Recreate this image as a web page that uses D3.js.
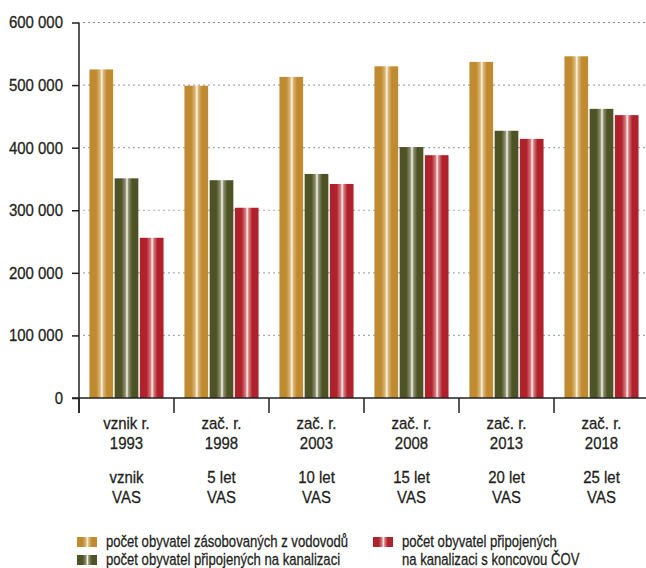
<!DOCTYPE html>
<html>
<head>
<meta charset="utf-8">
<script src="https://cdn.jsdelivr.net/npm/d3@7"></script>
<style>
  body { margin: 0; background: #fff; }
  svg text { font-family: "Liberation Sans", Arial, sans-serif; fill: #231f20; stroke: #231f20; stroke-width: 0.3px; }
</style>
</head>
<body>
<div id="chart"></div>
<script>
// data
var categories = ['1993', '1998', '2003', '2008', '2013', '2018'];
var labelTop = ['vznik r.', 'zač. r.', 'zač. r.', 'zač. r.', 'zač. r.', 'zač. r.'];
var labelBottom = ['vznik', '5 let', '10 let', '15 let', '20 let', '25 let'];
var seriesNames = [
    'počet obyvatel zásobovaných z vodovodů',
    'počet obyvatel připojených na kanalizaci',
    'počet obyvatel připojených na kanalizaci s koncovou ČOV'
];
var water = [525000, 499000, 513000, 530000, 537000, 546000];
var sewer = [351000, 348000, 358000, 401000, 427000, 462000];
var treatment = [256000, 304000, 342000, 388000, 414000, 452000];
var yTicks = [0, 100000, 200000, 300000, 400000, 500000, 600000];

var width = 646, height = 568;
var margin = { top: 22.5, right: 0, bottom: 170, left: 79 };
// the original font is a condensed one, so text gets squeezed sideways
var squeezeY = 0.88, squeezeX = 0.88, squeezeLegend = 0.77;

var svg = d3.select('#chart').append('svg')
    .attr('width', width)
    .attr('height', height);

var colors = [
    { id: 'gGold', base: '#bf8a30', light: '#dcb676' },
    { id: 'gGreen', base: '#4e5326', light: '#8f9170' },
    { id: 'gRed', base: '#b0222b', light: '#d8797f' }
];
var defs = svg.append('defs');
colors.forEach(function (c) {
    var g = defs.append('linearGradient').attr('id', c.id)
        .attr('x1', '0%').attr('x2', '100%').attr('y1', '0%').attr('y2', '0%');
    g.append('stop').attr('offset', '0%').attr('stop-color', c.base);
    g.append('stop').attr('offset', '28%').attr('stop-color', c.base);
    g.append('stop').attr('offset', '45%').attr('stop-color', c.light);
    g.append('stop').attr('offset', '52%').attr('stop-color', '#fbf8f2');
    g.append('stop').attr('offset', '59%').attr('stop-color', c.light);
    g.append('stop').attr('offset', '74%').attr('stop-color', c.base);
    g.append('stop').attr('offset', '100%').attr('stop-color', c.base);
});

var y = d3.scaleLinear().domain([0, 600000]).range([398, margin.top]);
var x0 = d3.scaleBand().domain(categories).range([margin.left, margin.left + 95 * 6]).paddingInner(0.22).paddingOuter(0.11);
var x1 = d3.scaleBand().domain([0, 1, 2]).range([0, x0.bandwidth()]).paddingInner(0.06);

var fmt = function (v) { return d3.format(',')(v).replace(/,/g, ' '); };

// grid
svg.append('g').selectAll('line').data(yTicks.slice(1)).join('line')
    .attr('x1', margin.left + 4).attr('x2', width)
    .attr('y1', function (d) { return y(d); }).attr('y2', function (d) { return y(d); })
    .attr('stroke', function (d) { return d === 600000 ? '#8a8a8a' : '#aaa'; })
    .attr('stroke-width', 1.2)
    .attr('stroke-dasharray', '2,3');

// bars
var series = [water, sewer, treatment];
var groups = svg.append('g').selectAll('g').data(categories).join('g')
    .attr('transform', function (d) { return 'translate(' + x0(d) + ',0)'; });
groups.selectAll('rect').data(function (d, i) { return series.map(function (s, k) { return { k: k, v: s[i] }; }); })
    .join('rect')
    .attr('x', function (d) { return x1(d.k); })
    .attr('width', x1.bandwidth())
    .attr('y', function (d) { return y(d.v); })
    .attr('height', function (d) { return y(0) - y(d.v); })
    .attr('fill', function (d) { return 'url(#' + colors[d.k].id + ')'; });

// y axis
var yAxis = svg.append('g').attr('transform', 'translate(' + margin.left + ',0)')
    .call(d3.axisLeft(y).tickValues(yTicks).tickFormat(fmt).tickSize(7).tickPadding(9));
yAxis.select('.domain').attr('stroke', '#231f20').attr('stroke-width', 1.5)
    .attr('d', 'M0,' + margin.top + 'V413');
yAxis.selectAll('.tick line').attr('stroke', '#231f20').attr('stroke-width', 1.5);
yAxis.selectAll('.tick text').style('font-size', '17px').attr('fill', '#231f20')
    .attr('x', 0).attr('transform', 'translate(-16,0) scale(' + squeezeY + ',1)');

// x axis
var step = x0.step();
svg.append('line').attr('x1', margin.left - 7).attr('x2', width)
    .attr('y1', y(0)).attr('y2', y(0)).attr('stroke', '#231f20').attr('stroke-width', 1.5);
svg.append('g').selectAll('line').data(categories).join('line')
    .attr('x1', function (d) { return x0(d) - step * x0.paddingInner() / 2; })
    .attr('x2', function (d) { return x0(d) - step * x0.paddingInner() / 2; })
    .attr('y1', y(0)).attr('y2', y(0) + 15)
    .attr('stroke', '#231f20').attr('stroke-width', 1.5);

var labels = svg.append('g').selectAll('text').data(categories).join('text')
    .attr('text-anchor', 'middle')
    .style('font-size', '17px')
    .attr('transform', function (d) { return 'translate(' + (x0(d) + x0.bandwidth() / 2) + ',0) scale(' + squeezeX + ',1)'; });
labels.each(function (d, i) {
    var t = d3.select(this);
    [labelTop[i], d, labelBottom[i], 'VAS'].forEach(function (s, j) {
        t.append('tspan').attr('x', 0).attr('y', 429 + j * 20 + (j > 1 ? 14 : 0)).text(s);
    });
});

// legend
var legend = [
    { k: 0, x: 77, y: 537, lines: [seriesNames[0]] },
    { k: 1, x: 77, y: 555, lines: [seriesNames[1]] },
    { k: 2, x: 373, y: 537, lines: ['počet obyvatel připojených', 'na kanalizaci s koncovou ČOV'] }
];
var lg = svg.append('g').selectAll('g').data(legend).join('g');
lg.append('rect')
    .attr('x', function (d) { return d.x; }).attr('y', function (d) { return d.y; })
    .attr('width', 20).attr('height', 10)
    .attr('fill', function (d) { return 'url(#' + colors[d.k].id + ')'; });
lg.append('text').style('font-size', '17px')
    .attr('transform', function (d) { return 'translate(' + (d.x + 29) + ',0) scale(' + squeezeLegend + ',1)'; })
    .each(function (d) {
        var t = d3.select(this);
        d.lines.forEach(function (s, j) {
            t.append('tspan').attr('x', 0).attr('y', d.y + 10 + j * 18).text(s);
        });
    });
</script>
</body>
</html>
